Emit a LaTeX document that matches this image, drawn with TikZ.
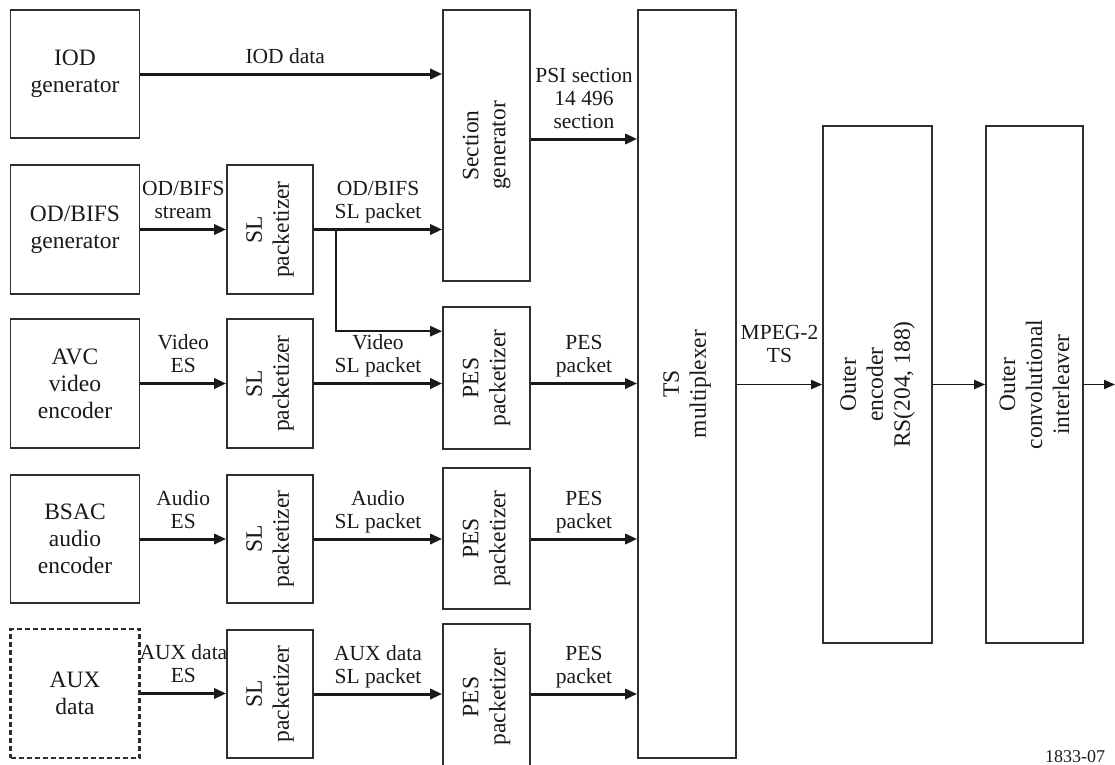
\documentclass[tikz,border=0pt]{standalone}
\usepackage{fontspec}
\setmainfont{Liberation Serif}
\usepackage{tikz}
\usetikzlibrary{calc,arrows.meta}
\definecolor{ink}{HTML}{1A1A1A}
\definecolor{edge}{HTML}{2E2E2E}
\newcommand\blkfont{\fontsize{23.5}{27}\selectfont}
\newcommand\lblfont{\fontsize{21.5}{23}\selectfont}
\tikzset{
  blk/.style={draw=edge, line width=1.6pt, inner sep=0pt, align=center, font=\blkfont, text=ink},
  dblk/.style={blk, line width=2.2pt, dash pattern=on 5pt off 3pt},
  vtxt/.style={rotate=90, align=center, font=\blkfont, text=ink, inner sep=0pt},
  arr/.style={draw=ink, line width=3pt, -{Triangle[length=12pt,width=10pt]}},
  tarr/.style={draw=ink, line width=1.8pt, -{Triangle[length=11pt,width=9pt]}},
  lbl/.style={above=9pt, inner sep=0pt, align=center, font=\lblfont, text=ink},
  lblp/.style={above=4.5pt, inner sep=0pt, align=center, font=\lblfont, text=ink},
}
\begin{document}
\begin{tikzpicture}[x=1pt,y=-1pt]
  \useasboundingbox (0,0) rectangle (1115,764);
  \node[blk, minimum width=129pt, minimum height=128pt] (iod) at (75,74) {IOD\\generator};
  \node[blk, minimum width=129pt, minimum height=129pt] (odb) at (75,229.5) {OD/BIFS\\generator};
  \node[blk, minimum width=129pt, minimum height=129pt] (avc) at (75,383.5) {AVC\\video\\encoder};
  \node[blk, minimum width=129pt, minimum height=128pt] (bsac) at (75,539) {BSAC\\audio\\encoder};
  \node[dblk, minimum width=129pt, minimum height=129pt] (aux) at (75,693.5) {AUX\\data};
  \node[blk, minimum width=86pt, minimum height=129pt, label={[vtxt]center:{SL\\packetizer}}] (sl1) at (270,229.5) {};
  \node[blk, minimum width=86pt, minimum height=129pt, label={[vtxt]center:{SL\\packetizer}}] (sl2) at (270,383.5) {};
  \node[blk, minimum width=86pt, minimum height=128pt, label={[vtxt]center:{SL\\packetizer}}] (sl3) at (270,539) {};
  \node[blk, minimum width=86pt, minimum height=128pt, label={[vtxt]center:{SL\\packetizer}}] (sl4) at (270,694) {};
  \node[blk, minimum width=87pt, minimum height=271pt, label={[vtxt]center:{Section\\generator}}] (sec) at (486.5,145.5) {};
  \node[blk, minimum width=87pt, minimum height=142pt, label={[vtxt]center:{PES\\packetizer}}] (pes1) at (486.5,378) {};
  \node[blk, minimum width=87pt, minimum height=141pt, label={[vtxt]center:{PES\\packetizer}}] (pes2) at (486.5,538.5) {};
  \node[blk, minimum width=87pt, minimum height=146pt, label={[vtxt]center:{PES\\packetizer}}] (pes3) at (486.5,697) {};
  \node[blk, minimum width=98pt, minimum height=748pt, label={[vtxt]center:{TS\\multiplexer}}] (ts) at (687,384) {};
  \node[blk, minimum width=109pt, minimum height=517pt, label={[vtxt]center:{Outer\\encoder\\RS(204, 188)}}] (outer) at (877.5,384.5) {};
  \node[blk, minimum width=97pt, minimum height=517pt, label={[vtxt]center:{Outer\\convolutional\\interleaver}}] (intl) at (1034.5,384.5) {};
  \coordinate (psi) at ($(sec.east)+(0,-6.5)$);
  \coordinate (br) at ($(sl1.east)+(22,0)$);
  \coordinate (pin) at ($(pes1.north west)+(0,25)$);
  \coordinate (out) at (1115,384.5);
  \draw[arr] (iod.east) -- (iod.east -| sec.west) node[lbl, midway, xshift=-6pt] {IOD data};
  \draw[arr] (psi) -- (psi -| ts.west) node[lbl, midway] {PSI section\\14 496\\section};
  \draw[arr] (odb.east) -- (sl1.west) node[lbl, midway] {OD/BIFS\\stream};
  \draw[arr] (sl1.east) -- (sl1.east -| sec.west) node[lblp, midway] {OD/BIFS\\SL packet};
  \draw[arr, line width=2.3pt] (br) |- (pin);
  \draw[arr] (avc.east) -- (sl2.west) node[lbl, midway] {Video\\ES};
  \draw[arr] (sl2.east) -- (sl2.east -| pes1.west) node[lblp, midway] {Video\\SL packet};
  \draw[arr] (sl2.east -| pes1.east) -- (sl2.east -| ts.west) node[lblp, midway] {PES\\packet};
  \draw[arr] (bsac.east) -- (sl3.west) node[lbl, midway] {Audio\\ES};
  \draw[arr] (sl3.east) -- (sl3.east -| pes2.west) node[lblp, midway] {Audio\\SL packet};
  \draw[arr] (sl3.east -| pes2.east) -- (sl3.east -| ts.west) node[lblp, midway] {PES\\packet};
  \draw[arr] (aux.east) -- (aux.east -| sl4.west) node[lbl, midway] {AUX data\\ES};
  \draw[arr] (sl4.east) -- (sl4.east -| pes3.west) node[lblp, midway] {AUX data\\SL packet};
  \draw[arr] (sl4.east -| pes3.east) -- (sl4.east -| ts.west) node[lblp, midway] {PES\\packet};
  \draw[tarr] (ts.east |- outer.west) -- (outer.west) node[lbl, midway, above=12pt] {MPEG-2\\TS};
  \draw[tarr] (outer.east) -- (intl.west);
  \draw[tarr] (intl.east) -- (out);
  \node[anchor=base, font=\fontsize{18}{20}\selectfont, text=ink] (fig) at (1075,762) {1833-07};
\end{tikzpicture}
\end{document}
